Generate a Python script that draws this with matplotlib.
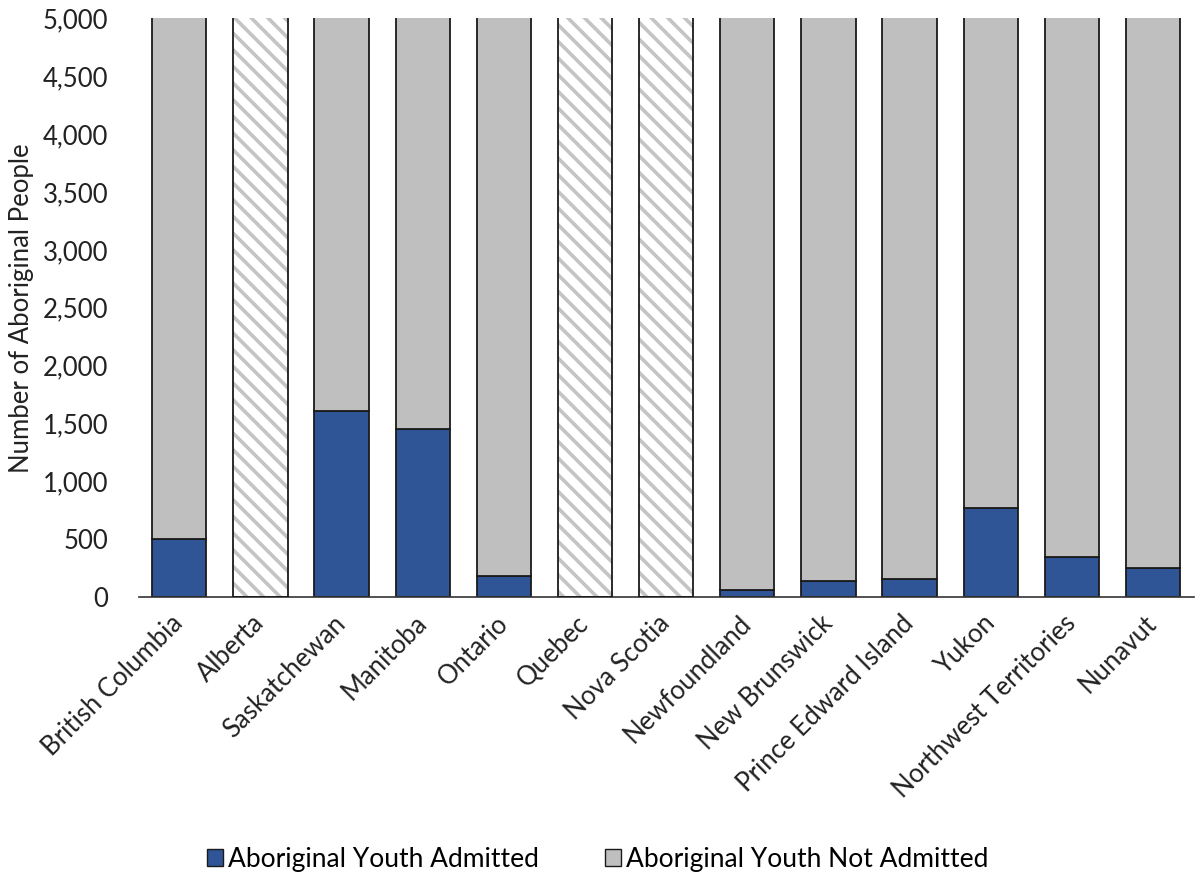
import matplotlib.pyplot as plt
import numpy as np
from matplotlib.patches import Patch

provinces = ['British Columbia', 'Alberta', 'Saskatchewan', 'Manitoba', 'Ontario',
             'Quebec', 'Nova Scotia', 'Newfoundland', 'New Brunswick',
             'Prince Edward Island', 'Yukon', 'Northwest Territories', 'Nunavut']
admitted = [500, np.nan, 1610, 1450, 185, np.nan, np.nan, 60, 140, 155, 770, 345, 250]
no_data = [False, True, False, False, False, True, True, False, False, False, False, False, False]
total = 5200  # bars run past the top of the axis

plt.rcParams['font.family'] = ['Lato', 'DejaVu Sans']
plt.rcParams['hatch.linewidth'] = 2.6

blue = '#2F5597'
grey = '#BFBFBF'

fig = plt.figure(figsize=(11.96, 8.73), dpi=100)
ax = fig.add_axes([0.116, 0.316, 0.882, 0.663])

x = np.arange(len(provinces))
w = 0.67
adm = np.array([0 if np.isnan(v) else v for v in admitted])
not_adm = np.array([0 if nd else total - a for nd, a in zip(no_data, adm)])

ax.bar(x, adm, w, color=blue, edgecolor='#1a1a1a', linewidth=1.3, zorder=2)
ax.bar(x, not_adm, w, bottom=adm, color=grey, edgecolor='#1a1a1a', linewidth=1.3, zorder=2)

# hatched bars where no data
for i, nd in enumerate(no_data):
    if nd:
        ax.bar(x[i], total, w, color='white', edgecolor='#c4c4c4', hatch='\\\\',
               linewidth=0, zorder=2)
        ax.bar(x[i], total, w, color='none', edgecolor='#1a1a1a', linewidth=1.3, zorder=3)

ax.set_ylim(0, 5000)
ax.set_xlim(-0.5, len(provinces) - 0.5)
ax.set_yticks(np.arange(0, 5001, 500))
ax.set_yticklabels(['{:,}'.format(v) for v in range(0, 5001, 500)])
ax.set_xticks(x)
ax.set_xticklabels(provinces, rotation=45, ha='right', va='center', rotation_mode='anchor')
ax.tick_params(axis='both', length=0, labelsize=18.5, colors='#222222')
ax.tick_params(axis='x', pad=16)
ax.tick_params(axis='y', pad=22)
for s in ['top', 'right', 'left']:
    ax.spines[s].set_visible(False)
ax.spines['bottom'].set_color('#333333')
ax.spines['bottom'].set_linewidth(1.2)
ax.set_ylabel('Number of Aboriginal People', fontsize=18.5, color='#222222', labelpad=6)

handles = [Patch(facecolor=blue, edgecolor='#1a1a1a', label='Aboriginal Youth Admitted'),
           Patch(facecolor=grey, edgecolor='#1a1a1a', label='Aboriginal Youth Not Admitted')]
fig.legend(handles=handles, loc='lower center', bbox_to_anchor=(0.5, -0.026), ncol=2,
           frameon=False, fontsize=19, handlelength=0.6, handleheight=0.6,
           handletextpad=0.2, columnspacing=2.5)

fig.savefig('out.png', dpi=100)
